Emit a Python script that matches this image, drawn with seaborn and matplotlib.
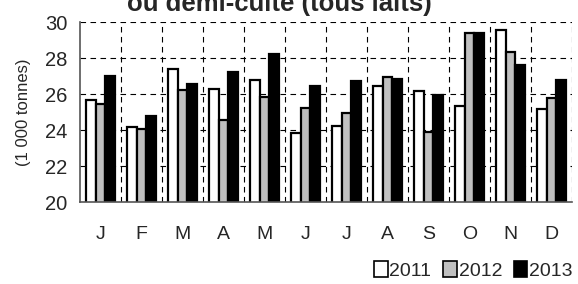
import matplotlib
matplotlib.use("Agg")
import matplotlib.pyplot as plt
import numpy as np
import pandas as pd
import seaborn as sns
from matplotlib.patches import Patch

months = ['J', 'F', 'M', 'A', 'M', 'J', 'J', 'A', 'S', 'O', 'N', 'D']
years = ['2011', '2012', '2013']
v2011 = [25.67, 24.15, 27.39, 26.28, 26.78, 23.81, 24.22, 26.42, 26.18, 25.33, 29.53, 25.18]
v2012 = [25.44, 24.04, 26.20, 24.56, 25.85, 25.20, 24.93, 26.96, 23.87, 29.37, 28.35, 25.80]
v2013 = [27.00, 24.78, 26.55, 27.20, 28.20, 26.46, 26.74, 26.85, 25.93, 29.37, 27.59, 26.80]
colors = ['white', '#c0c0c0', 'black']

sns.set_style('white')
plt.rcParams['font.family'] = ['Liberation Sans', 'DejaVu Sans']

rows = []
for i, m in enumerate(months):
    for y, vals in zip(years, [v2011, v2012, v2013]):
        rows.append({'pos': i, 'year': y, 'value': vals[i]})
df = pd.DataFrame(rows)

fig = plt.figure(figsize=(5.78, 2.84), dpi=100)
ax = fig.add_axes([80 / 578, 1 - 202 / 284, 492 / 578, 180 / 284])

sns.barplot(data=df, x='pos', y='value', hue='year', palette=colors,
            width=0.73, edgecolor='black', linewidth=1.6, ax=ax,
            legend=False, zorder=3)

ax.set_xlim(-0.5, 11.5)
ax.set_ylim(20, 30)
ax.set_yticks(np.arange(20, 31, 2))
ax.set_xticks(range(12))
ax.set_xticklabels(months)
ax.set_xticks(np.arange(-0.5, 12, 1), minor=True)
ax.tick_params(axis='x', which='major', length=0, labelsize=14, pad=17)
ax.tick_params(axis='x', which='minor', length=6, direction='out', width=1, color='#555555')
ax.tick_params(axis='y', length=8, direction='inout', labelsize=14.5, width=1, color='#555555', pad=5)
ax.set_xlabel('')
ax.set_ylabel('(1 000 tonnes)', fontsize=12, labelpad=10)

dash = (0, (5, 4))
ax.grid(False)
for yv in np.arange(22, 31, 2):
    ax.axhline(yv, color='black', lw=0.8, ls=dash, zorder=1)
for xv in np.arange(0.5, 12, 1):
    ax.axvline(xv, color='black', lw=0.8, ls=dash, zorder=1)

for s in ['top', 'right']:
    ax.spines[s].set_visible(False)
for s in ['left', 'bottom']:
    ax.spines[s].set_color('#555555')
    ax.spines[s].set_linewidth(1.2)
    ax.spines[s].set_zorder(4)

fig.text(0.483, 1 - 11 / 284, 'ou demi-cuite (tous laits)', ha='center',
         va='baseline', fontsize=18.5, fontweight='bold')

handles = [Patch(facecolor=c, edgecolor='black', linewidth=1.2, label=y)
           for c, y in zip(colors, years)]
fig.legend(handles=handles, loc='lower right', bbox_to_anchor=(1.008, -0.02),
           ncol=3, frameon=False, fontsize=14, handlelength=0.7,
           handleheight=0.9, handletextpad=0.1, columnspacing=0.6,
           borderaxespad=0.1)

fig.savefig('out.png', dpi=100)
